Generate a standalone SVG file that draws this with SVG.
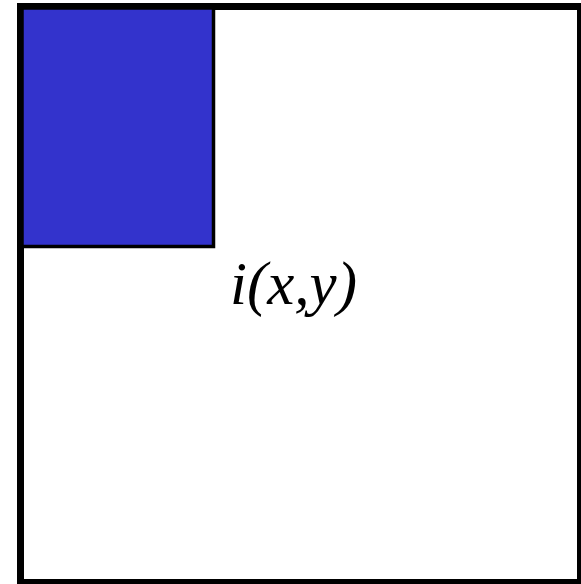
<svg xmlns="http://www.w3.org/2000/svg" width="581" height="584" viewBox="0 0 581 584">
<style>
.frame{fill:#fff;stroke:#000;stroke-width:7}
.blk{fill:#3333CC;stroke:#000;stroke-width:3.5}
.lbl{font-family:"Liberation Serif",serif;font-style:italic;font-size:61px;fill:#000}
</style>
<rect width="581" height="584" fill="#fff"/>
<g id="image">
<rect class="frame" x="20.5" y="6.5" width="560" height="576"/>
</g>
<g id="block">
<rect class="blk" x="22" y="8" width="191.5" height="238.5"/>
</g>
<g id="label">
<text class="lbl" x="230" y="304">i(x,y)</text>
</g>
<g id="connectors"/>
</svg>
